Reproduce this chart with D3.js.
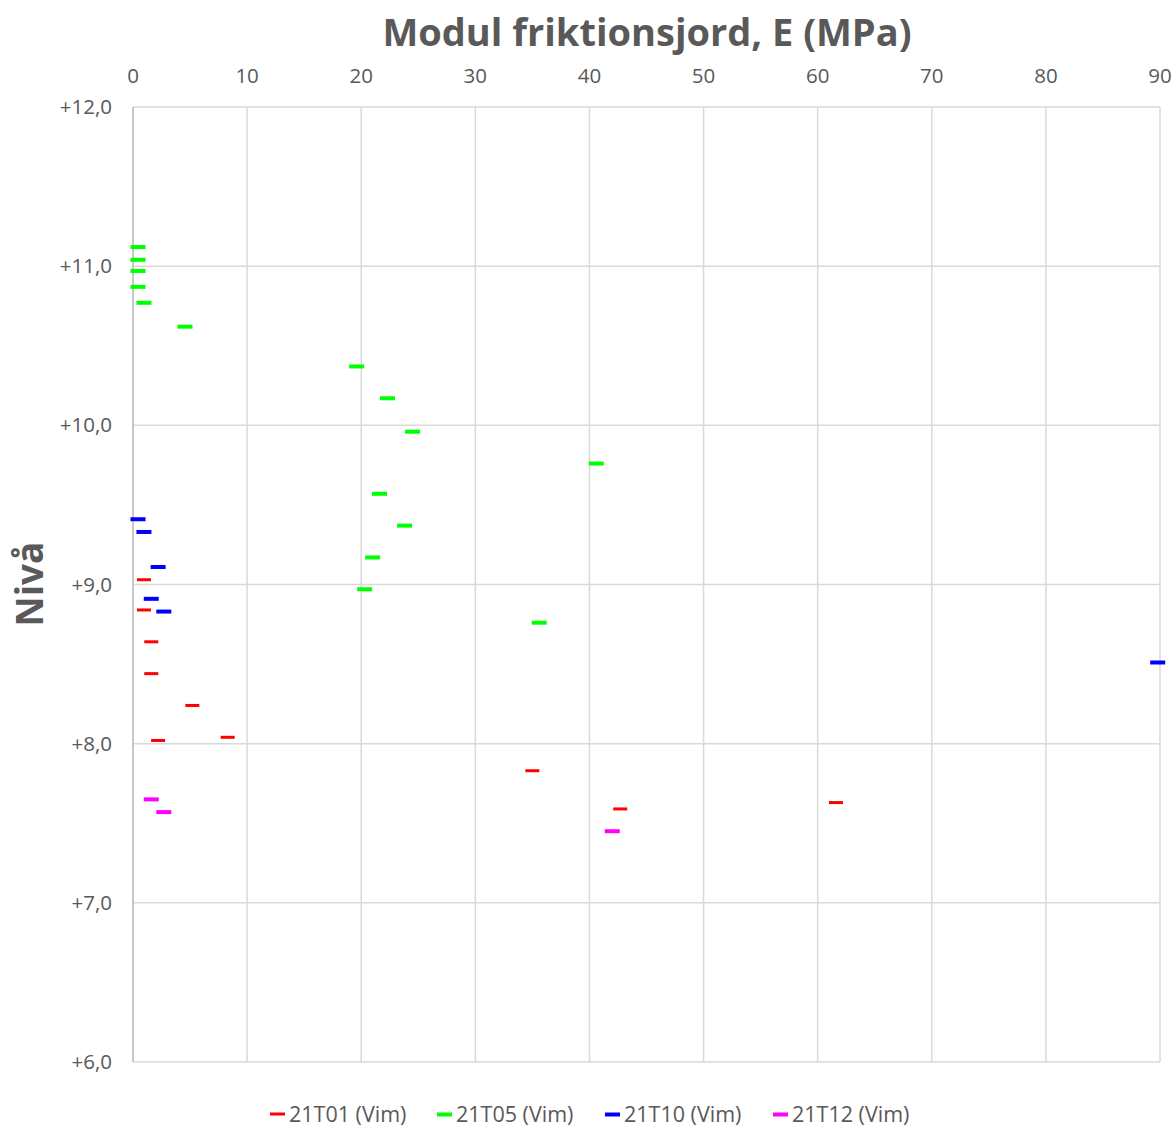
<!DOCTYPE html>
<html>
<head>
<meta charset="utf-8">
<script src="https://cdn.jsdelivr.net/npm/d3@7"></script>
<style>
  body { margin: 0; background: #fff; }
  svg { display: block; font-family: "Open Sans", "Noto Sans", sans-serif; }
</style>
</head>
<body>
<svg id="chart" width="1174" height="1126"></svg>
<script>
// Data: [E (MPa), level]
const seriesNames = ['21T01 (Vim)', '21T05 (Vim)', '21T10 (Vim)', '21T12 (Vim)'];
const seriesColors = ['#ff0000', '#00ff00', '#0000ff', '#ff00ff'];

const t01 = [[0.96, 9.03], [0.96, 8.84], [1.6, 8.64], [1.6, 8.44], [5.2, 8.24],
  [8.3, 8.04], [2.2, 8.02], [35.0, 7.83], [42.7, 7.59], [61.6, 7.63]];
const t05 = [[0.44, 11.12], [0.44, 11.04], [0.44, 10.97], [0.44, 10.87], [0.96, 10.77],
  [4.56, 10.62], [19.6, 10.37], [22.3, 10.17], [24.5, 9.96], [40.6, 9.76],
  [21.6, 9.57], [23.8, 9.37], [21.0, 9.17], [20.3, 8.97], [35.6, 8.76]];
const t10 = [[0.44, 9.41], [0.96, 9.33], [2.2, 9.11], [1.6, 8.91], [2.7, 8.83], [89.8, 8.51]];
const t12 = [[1.6, 7.65], [2.7, 7.57], [42.0, 7.45]];

const xTicks = [0, 10, 20, 30, 40, 50, 60, 70, 80, 90];
const yTicks = [6, 7, 8, 9, 10, 11, 12];

const allSeries = [t01, t05, t10, t12];

const svg = d3.select('#chart');
const margin = { left: 133, right: 14, top: 107, bottom: 64 };
const W = 1174, H = 1126;

const x = d3.scaleLinear().domain([0, 90]).range([margin.left, W - margin.right]);
const y = d3.scaleLinear().domain([6, 12]).range([H - margin.bottom, margin.top]);

const textColor = '#595959';
const gridColor = '#d9d9d9';

// Gridlines
svg.append('g')
  .selectAll('line')
  .data(xTicks)
  .join('line')
  .attr('x1', d => x(d)).attr('x2', d => x(d))
  .attr('y1', y(12)).attr('y2', y(6))
  .attr('stroke', gridColor).attr('stroke-width', 1.5);

svg.append('g')
  .selectAll('line')
  .data(yTicks)
  .join('line')
  .attr('x1', x(0)).attr('x2', x(90))
  .attr('y1', d => y(d)).attr('y2', d => y(d))
  .attr('stroke', gridColor).attr('stroke-width', 1.5);

// Left axis line
svg.append('line')
  .attr('x1', x(0)).attr('x2', x(0))
  .attr('y1', y(12)).attr('y2', y(6))
  .attr('stroke', '#bfbfbf').attr('stroke-width', 1.5);

// Tick labels
svg.append('g')
  .selectAll('text')
  .data(xTicks)
  .join('text')
  .attr('x', d => x(d))
  .attr('y', 83)
  .attr('text-anchor', 'middle')
  .attr('font-size', 20.5)
  .attr('fill', textColor)
  .text(d => d);

svg.append('g')
  .selectAll('text')
  .data(yTicks)
  .join('text')
  .attr('x', 112)
  .attr('y', d => y(d) + 7)
  .attr('text-anchor', 'end')
  .attr('font-size', 20.5)
  .attr('fill', textColor)
  .text(d => '+' + d.toFixed(1).replace('.', ','));

// Titles
svg.append('text')
  .attr('x', 647).attr('y', 46)
  .attr('text-anchor', 'middle')
  .attr('font-size', 38).attr('font-weight', 'bold')
  .attr('fill', textColor)
  .text('Modul friktionsjord, E (MPa)');

svg.append('text')
  .attr('transform', 'translate(43,584) rotate(-90)')
  .attr('text-anchor', 'middle')
  .attr('font-size', 37).attr('font-weight', 'bold')
  .attr('fill', textColor)
  .text('Nivå');

// Markers (short dashes)
allSeries.forEach((data, i) => {
  const w = i === 0 ? 14 : 15;
  const h = i === 0 ? 3 : 4;
  svg.append('g')
    .selectAll('rect')
    .data(data)
    .join('rect')
    .attr('x', d => x(d[0]) - w / 2)
    .attr('y', d => y(d[1]) - h / 2)
    .attr('width', w)
    .attr('height', h)
    .attr('fill', seriesColors[i]);
});

// Legend
const legendX = [270, 437, 605, 773];
const legend = svg.append('g')
  .selectAll('g')
  .data(seriesNames)
  .join('g')
  .attr('transform', (d, i) => `translate(${legendX[i]},1114)`);

legend.append('rect')
  .attr('x', 0).attr('y', -1.5)
  .attr('width', 15).attr('height', (d, i) => i === 0 ? 3 : 4)
  .attr('fill', (d, i) => seriesColors[i]);

legend.append('text')
  .attr('x', 19).attr('y', 7.5)
  .attr('font-size', 21.5)
  .attr('fill', textColor)
  .text(d => d);
</script>
</body>
</html>
